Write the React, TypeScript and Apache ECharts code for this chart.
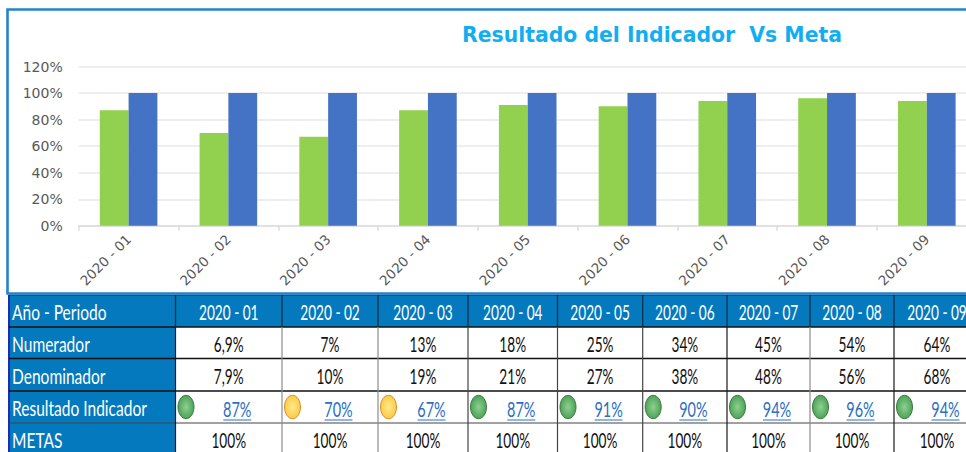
import React, { useEffect, useRef } from "react";
import * as echarts from "echarts";

const categories = ["2020 - 01", "2020 - 02", "2020 - 03", "2020 - 04", "2020 - 05", "2020 - 06", "2020 - 07", "2020 - 08", "2020 - 09"];
const resultado = [87, 70, 67, 87, 91, 90, 94, 96, 94];
const metas = [100, 100, 100, 100, 100, 100, 100, 100, 100];
const numerador = ["6,9%", "7%", "13%", "18%", "25%", "34%", "45%", "54%", "64%"];
const denominador = ["7,9%", "10%", "19%", "21%", "27%", "38%", "48%", "56%", "68%"];
const resultadoTxt = ["87%", "70%", "67%", "87%", "91%", "90%", "94%", "96%", "94%"];
const metasTxt = ["100%", "100%", "100%", "100%", "100%", "100%", "100%", "100%", "100%"];
const semaforo = ["g", "y", "y", "g", "g", "g", "g", "g", "g"];
const rowLabels = ["Año - Periodo", "Numerador", "Denominador", "Resultado Indicador", "METAS"];

const colX = [9, 175.5, 282, 378, 468, 557.5, 642.7, 727, 810, 894, 980];
const colLine = ["#1a1a1a", "#8c8c8c", "#8c8c8c", "#444444", "#444444", "#444444", "#1a1a1a", "#8c8c8c", "#1a1a1a"];
const rowY = [295, 327, 358.5, 391, 423, 454];
const BLUE = "#0579bd";
const FONT = "Lato, sans-serif";

function txt(x: number, y: number, t: string, fill: string, align: string, sx: number) {
  return { type: "text", x, y, scaleX: sx, style: { x: 0, y: 0, text: t, fill, font: `21px ${FONT}`, align, verticalAlign: "middle" } };
}

function tableGraphics() {
  const g: any[] = [];
  g.push({ type: "rect", shape: { x: 9, y: rowY[0], width: 980, height: rowY[1] - rowY[0] }, style: { fill: BLUE } });
  g.push({ type: "rect", shape: { x: 9, y: rowY[0], width: colX[1] - colX[0], height: 160 }, style: { fill: BLUE } });
  g.push({ type: "line", shape: { x1: 9, y1: rowY[0], x2: 9, y2: 452 }, style: { stroke: "#1a2fb0", lineWidth: 2 } });
  g.push({ type: "line", shape: { x1: 9, y1: rowY[0], x2: 980, y2: rowY[0] }, style: { stroke: "#0c3a5c", lineWidth: 1 } });
  for (let i = 1; i < 5; i++) {
    g.push({ type: "line", shape: { x1: 9, y1: rowY[i], x2: 980, y2: rowY[i] }, style: { stroke: i === 4 ? "#444444" : "#111111", lineWidth: i === 4 ? 1.2 : 1.7 } });
  }
  for (let c = 1; c < colX.length - 1; c++) {
    g.push({ type: "line", shape: { x1: colX[c], y1: rowY[0], x2: colX[c], y2: rowY[1] }, style: { stroke: "#0c2f4c", lineWidth: 1.3 } });
    g.push({ type: "line", shape: { x1: colX[c], y1: rowY[1], x2: colX[c], y2: 452 }, style: { stroke: colLine[c - 1], lineWidth: 1.2 } });
  }
  rowLabels.forEach((t, r) => {
    g.push(txt(12, (rowY[r] + rowY[r + 1]) / 2 + 1.5, t, "#ffffff", "left", 0.74));
  });
  const rows = [categories, numerador, denominador, resultadoTxt, metasTxt];
  rows.forEach((vals, r) => {
    vals.forEach((t, i) => {
      const cx = (colX[i + 1] + colX[i + 2]) / 2;
      const y = (rowY[r] + rowY[r + 1]) / 2 + 1.5;
      if (r === 3) {
        const tx = (colX[i + 1] + 20 + colX[i + 2]) / 2 - 1.5;
        g.push(txt(tx, y, t, "#2a6fc4", "center", 0.69));
        g.push({ type: "line", shape: { x1: tx - 14, y1: y + 11.5, x2: tx + 14, y2: y + 11.5 }, style: { stroke: "#2a6fc4", lineWidth: 1 } });
        const green = semaforo[i] === "g";
        g.push({
          type: "ellipse",
          shape: { cx: colX[i + 1] + 10.5, cy: y - 1.5, rx: 8, ry: 11.7 },
          style: {
            fill: new echarts.graphic.RadialGradient(0.5, 0.5, 0.6, green
              ? [{ offset: 0, color: "#8fd08f" }, { offset: 1, color: "#3f9a4f" }]
              : [{ offset: 0, color: "#ffe98a" }, { offset: 1, color: "#f7c63c" }]),
            stroke: green ? "#3b7a3f" : "#d98e2b",
            lineWidth: 1,
          },
        });
      } else {
        g.push(txt(cx, y, t, r === 0 ? "#ffffff" : "#111111", "center", 0.65));
      }
    });
  });
  return g;
}

export default function App() {
  const ref = useRef<HTMLDivElement>(null);
  useEffect(() => {
    document.body.style.margin = "0";
    const chart = echarts.init(ref.current!, undefined, { renderer: "svg" });
    chart.setOption({
      animation: false,
      backgroundColor: "#ffffff",
      title: {
        text: "Resultado del Indicador  Vs Meta",
        left: 647,
        top: 20,
        textAlign: "center",
        textStyle: { fontFamily: "DejaVu Sans", fontWeight: "bold", fontSize: 20.4, color: "#12aeef" },
      },
      grid: { left: 78.7, top: 66.5, width: 898, height: 159.3, containLabel: false },
      xAxis: {
        type: "category",
        data: categories,
        axisLine: { lineStyle: { color: "#dcdcdc", width: 1.5 } },
        axisTick: { show: true, lineStyle: { color: "#dcdcdc", width: 1.5 }, length: 5 },
        axisLabel: { rotate: 45, interval: 0, margin: 11, color: "#595959", fontFamily: "DejaVu Sans", fontSize: 13.6 },
      },
      yAxis: {
        type: "value",
        min: 0,
        max: 120,
        interval: 20,
        axisLine: { show: false },
        axisTick: { show: false },
        splitLine: { lineStyle: { color: "#e8e8e8", width: 1.5 } },
        axisLabel: { formatter: "{value}%", color: "#595959", fontFamily: "DejaVu Sans", fontSize: 14, margin: 16 },
      },
      series: [
        { type: "bar", name: "Resultado", data: resultado, barWidth: 28.8, barGap: 0, itemStyle: { color: "#92d050" } },
        { type: "bar", name: "Meta", data: metas, barWidth: 28.8, barGap: 0, itemStyle: { color: "#4472c4" } },
      ],
      graphic: [
        { type: "rect", z: 10, shape: { x: 7.5, y: 9.5, width: 1000, height: 284 }, style: { fill: "none", stroke: "#2583cd", lineWidth: 2.6 } },
        { type: "group", z: 11, children: tableGraphics() },
      ],
    });
    return () => chart.dispose();
  }, []);
  return (
    <div style={{ position: "fixed", left: 0, top: 0, width: 966, height: 452, overflow: "hidden", background: "#fff" }}>
      <div ref={ref} style={{ width: 1000, height: 452 }} />
    </div>
  );
}
